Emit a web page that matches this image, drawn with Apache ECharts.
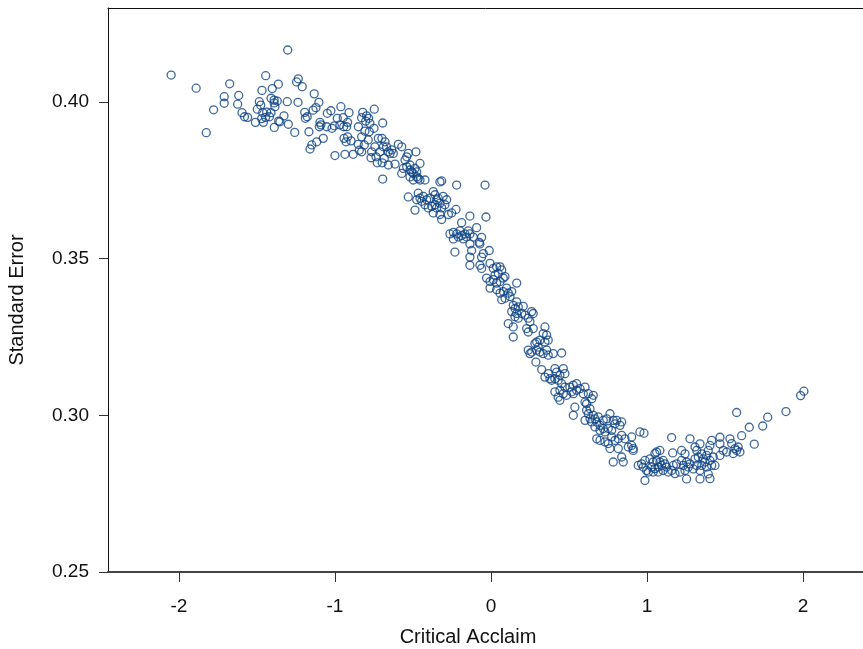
<!DOCTYPE html>
<html>
<head>
<meta charset="utf-8">
<script src="https://cdn.jsdelivr.net/npm/echarts@6/dist/echarts.min.js"></script>
<style>
  html, body { margin: 0; padding: 0; background: #ffffff; }
  #chart { width: 863px; height: 649px; }
</style>
</head>
<body>
<div id="chart"></div>
<script>
// Axis tick positions and labels
const xTicks = [-2, -1, 0, 1, 2];
const yTicks = [0.25, 0.30, 0.35, 0.40];

// Each item: [critical acclaim, standard error]
const points = [
  [-2.05,0.4086],[-1.89,0.4044],[-1.675,0.4058],[-1.71,0.4017],[-1.71,0.3996],[-1.617,0.4021],
  [-1.624,0.3993],[-1.778,0.3975],[-1.825,0.3902],[-1.596,0.3966],[-1.58,0.3953],[-1.56,0.3951],
  [-1.444,0.4084],[-1.468,0.4037],[-1.402,0.4043],[-1.363,0.4057],[-1.485,0.4001],[-1.476,0.399],
  [-1.41,0.4012],[-1.39,0.4006],[-1.39,0.3997],[-1.37,0.4003],[-1.498,0.3977],[-1.463,0.3966],
  [-1.438,0.3968],[-1.41,0.3966],[-1.385,0.3985],[-1.47,0.3947],[-1.445,0.3951],[-1.42,0.3953],
  [-1.51,0.3935],[-1.459,0.3935],[-1.389,0.3919],[-1.361,0.3939],
  [-1.303,0.4166],[-1.235,0.4074],[-1.246,0.4064],[-1.21,0.4049],
  [-1.133,0.4026],[-1.103,0.3999],[-1.14,0.3974],[-1.122,0.3982],[-1.306,0.4001],[-1.237,0.3999],
  [-1.327,0.3956],[-1.353,0.3937],[-1.299,0.3929],[-1.258,0.3903],[-1.194,0.3967],[-1.178,0.3953],
  [-1.19,0.3948],[-1.167,0.3905],[-1.096,0.3935],[-1.1,0.3921],[-1.09,0.3927],[-1.049,0.3964],
  [-1.026,0.3972],[-0.962,0.3985],[-0.91,0.3966],[-0.985,0.3948],[-0.947,0.395],[-0.919,0.3935],
  [-0.925,0.3921],[-0.944,0.3921],[-0.968,0.3927],[-1.053,0.3921],[-1.019,0.3916],[-1.004,0.3924],
  [-1.075,0.3884],[-1.117,0.3873],[-1.149,0.3863],[-1.16,0.385],[-1.0,0.3829],[-0.942,0.3884],
  [-0.929,0.3873],[-0.919,0.3889],[-0.897,0.3876],[-0.936,0.3833],[-0.883,0.3833],[-0.85,0.3921],
  [-0.822,0.3967],[-0.797,0.3956],[-0.784,0.3948],[-0.776,0.3932],[-0.803,0.3939],[-0.829,0.395],
  [-0.748,0.3977],[-0.808,0.3907],[-0.78,0.3905],[-0.75,0.3916],[-0.829,0.3889],[-0.851,0.3865],
  [-0.812,0.3863],[-0.829,0.3841],[-0.787,0.3879],[-0.765,0.3841],[-0.744,0.3857],[-0.722,0.3884],
  [-0.699,0.3884],[-0.679,0.3873],[-0.69,0.3857],[-0.669,0.3857],[-0.658,0.3841],[-0.712,0.3841],
  [-0.737,0.3825],[-0.769,0.3822],[-0.729,0.3806],[-0.697,0.3806],[-0.684,0.382],[-0.844,0.3846],
  [-0.694,0.3754],[-0.694,0.3933],[-0.594,0.3865],[-0.572,0.3857],
  [-0.647,0.3836],[-0.636,0.3847],[-0.626,0.3836],[-0.658,0.3799],[-0.615,0.3802],
  [-0.54,0.3825],[-0.53,0.3836],[-0.551,0.3815],[-0.481,0.3841],[-0.455,0.3804],
  [-0.562,0.3788],[-0.572,0.3772],[-0.54,0.3793],[-0.519,0.3799],[-0.519,0.3783],[-0.508,0.3777],
  [-0.498,0.3772],[-0.476,0.3777],[-0.487,0.3788],[-0.476,0.3761],[-0.519,0.3761],[-0.498,0.3751],
  [-0.455,0.3751],[-0.466,0.3756],[-0.423,0.3751],[-0.327,0.3745],[-0.316,0.3748],[-0.22,0.3735],
  [-0.466,0.3709],[-0.455,0.3693],[-0.476,0.3688],[-0.444,0.3683],[-0.423,0.3672],[-0.412,0.3688],
  [-0.434,0.3699],[-0.53,0.3697],[-0.487,0.3655],
  [-0.391,0.3693],[-0.37,0.3714],[-0.359,0.3704],[-0.348,0.3688],[-0.338,0.3693],[-0.327,0.3677],
  [-0.359,0.3672],[-0.38,0.3667],[-0.348,0.3662],[-0.316,0.3662],[-0.295,0.3672],[-0.284,0.3688],
  [-0.306,0.3699],[-0.402,0.3662],[-0.37,0.3646],[-0.327,0.3641],[-0.316,0.3625],[-0.273,0.3641],
  [-0.252,0.3646],[-0.224,0.3657],[-0.135,0.3636],[-0.188,0.3615],[-0.092,0.3599],
  [-0.263,0.3579],[-0.241,0.3584],[-0.22,0.3579],[-0.199,0.3589],[-0.188,0.3574],[-0.167,0.3579],
  [-0.156,0.3569],[-0.177,0.3563],[-0.135,0.3579],[-0.145,0.3589],[-0.209,0.3569],[-0.241,0.3563],
  [-0.113,0.3569],[-0.032,0.3633],[-0.038,0.3735],
  [-0.231,0.3521],[-0.135,0.3547],[-0.124,0.3526],[-0.071,0.3547],[-0.06,0.3568],[-0.075,0.3552],
  [-0.011,0.3526],[-0.049,0.3516],[-0.06,0.3505],[-0.135,0.3505],[-0.135,0.3479],[-0.071,0.3479],
  [-0.06,0.3469],[-0.006,0.3485],[0.015,0.3469],[0.036,0.3474],[0.058,0.3474],[0.069,0.3464],
  [0.047,0.3453],[-0.028,0.3438],[-0.006,0.3427],[0.015,0.3433],[0.026,0.3448],[0.036,0.3422],
  [0.058,0.3427],[0.079,0.3438],[0.09,0.3443],[-0.006,0.3406],
  [0.036,0.3401],[0.058,0.339],[0.079,0.3395],[0.1,0.3406],[0.111,0.339],[0.133,0.3395],
  [0.122,0.3379],[0.09,0.3374],[0.165,0.3422],[0.069,0.3369],
  [0.143,0.3351],[0.175,0.3346],[0.207,0.3348],[0.165,0.3362],
  [0.154,0.3341],[0.133,0.3331],[0.165,0.3325],[0.154,0.3315],[0.197,0.3325],[0.218,0.332],
  [0.175,0.331],[0.239,0.331],[0.271,0.3325],[0.261,0.3331],[0.25,0.3299],
  [0.111,0.3293],[0.143,0.3282],[0.143,0.325],[0.229,0.3277],[0.239,0.3266],[0.271,0.3277],
  [0.346,0.3282],[0.335,0.3261],[0.357,0.3256],[0.367,0.324],[0.346,0.3234],[0.314,0.324],
  [0.293,0.3234],[0.282,0.3229],
  [0.239,0.3208],[0.261,0.3202],[0.25,0.3197],[0.293,0.3208],[0.303,0.3218],[0.314,0.3202],
  [0.335,0.3197],[0.367,0.3192],[0.399,0.3197],[0.453,0.3199],[0.357,0.3208],[0.288,0.317],
  [0.325,0.3146],[0.367,0.3133],[0.346,0.3122],[0.378,0.3117],[0.41,0.3149],[0.421,0.3138],
  [0.442,0.3128],[0.464,0.3149],[0.474,0.3133],[0.431,0.3112],[0.41,0.3117],[0.389,0.3112],
  [0.453,0.3101],[0.474,0.309],[0.442,0.308],[0.464,0.3069],[0.485,0.3064],[0.506,0.309],
  [0.528,0.3096],[0.517,0.3075],[0.549,0.308],[0.571,0.3085],[0.603,0.309],[0.592,0.3069],
  [0.624,0.3069],[0.646,0.3053],[0.656,0.3064],[0.41,0.3075],[0.431,0.3058],[0.442,0.3048],
  [0.549,0.3101],[0.528,0.3069],[0.613,0.3037],
  [0.538,0.3026],[0.528,0.3],
  [0.603,0.3042],[0.613,0.3016],[0.635,0.3021],[0.624,0.3005],[0.603,0.2984],[0.635,0.2989],
  [0.645,0.2979],[0.667,0.2989],[0.656,0.3],[0.678,0.2979],[0.699,0.2968],[0.688,0.2995],
  [0.72,0.2984],[0.742,0.2989],[0.763,0.3005],[0.784,0.2984],[0.806,0.2984],[0.795,0.2973],
  [0.827,0.2968],[0.838,0.2979],[0.667,0.2963],[0.699,0.2952],[0.72,0.2958],[0.752,0.2958],
  [0.731,0.2947],[0.774,0.2952],[0.678,0.2925],[0.699,0.292],[0.731,0.2915],[0.752,0.291],
  [0.774,0.2931],[0.795,0.292],[0.816,0.2925],[0.838,0.2936],[0.859,0.2925],[0.902,0.2931],
  [0.88,0.2899],[0.902,0.2904],[0.912,0.2894],[0.955,0.2947],[0.981,0.2943],[0.763,0.2894],
  [0.816,0.2894],[0.838,0.2867],[0.784,0.2851],[0.848,0.2851],
  [0.912,0.2888],[1.158,0.2929],[1.165,0.288],[1.083,0.2888],[1.062,0.2883],[1.051,0.2878],
  [0.944,0.284],[0.966,0.2845],[0.987,0.2856],[0.976,0.2835],[0.998,0.2824],[1.019,0.2861],
  [1.04,0.2851],[1.062,0.2856],[1.083,0.2851],[1.104,0.2856],[1.115,0.2845],[1.094,0.284],
  [1.072,0.2835],[1.051,0.283],[1.03,0.2835],[1.009,0.2819],[1.04,0.2819],[1.072,0.2819],
  [1.104,0.2824],[1.126,0.2835],[1.136,0.2819],[1.158,0.2824],[1.169,0.284],[1.19,0.2845],
  [1.222,0.2856],[1.233,0.284],[1.254,0.2851],[1.265,0.2835],[1.276,0.2845],[1.244,0.2824],
  [1.212,0.2819],[1.18,0.2814],[0.987,0.2792],
  [1.222,0.2888],[1.244,0.2877],[1.276,0.2925],[1.308,0.2899],[1.319,0.2888],[1.34,0.2909],
  [1.329,0.2867],[1.308,0.2861],[1.351,0.2877],[1.362,0.2861],[1.383,0.2872],[1.393,0.2888],
  [1.404,0.2904],[1.415,0.292],[1.468,0.293],[1.468,0.2909],[1.489,0.2888],[1.511,0.2883],
  [1.425,0.2867],[1.404,0.2856],[1.372,0.2851],[1.351,0.284],[1.383,0.2835],[1.415,0.284],
  [1.34,0.2824],[1.297,0.2829],[1.319,0.284],[1.254,0.2797],[1.34,0.2797],[1.393,0.2813],
  [1.436,0.284],[1.468,0.2872],[1.404,0.2798],
  [2.006,0.3077],[1.985,0.3063],[1.891,0.3012],[1.575,0.3009],[1.774,0.2994],[1.742,0.2966],
  [1.656,0.2962],[1.607,0.2935],[1.688,0.2908],[1.532,0.2925],[1.543,0.291],
  [1.564,0.2894],[1.575,0.2888],[1.596,0.2883],[1.585,0.2899],[1.553,0.2878]
];

const FONT = '"Liberation Sans", Arial, Helvetica, sans-serif';
const chart = echarts.init(document.getElementById('chart'), null, { renderer: 'canvas' });

chart.setOption({
  animation: false,
  backgroundColor: '#ffffff',
  grid: { left: 108, top: 8, right: 0, bottom: 77, containLabel: false },
  xAxis: [
    {
      type: 'value',
      min: -2.455,
      max: 2.385,
      position: 'bottom',
      axisLine: { show: true, onZero: false, lineStyle: { color: '#444444', width: 2 } },
      axisTick: { show: true, customValues: xTicks, length: 10, lineStyle: { color: '#333333', width: 1 } },
      axisLabel: {
        customValues: xTicks, margin: 25, fontSize: 19, color: '#111111', fontFamily: FONT,
        formatter: v => String(v)
      },
      splitLine: { show: false }
    },
    {
      // top frame line
      type: 'value',
      min: -2.455,
      max: 2.385,
      position: 'top',
      axisLine: { show: true, onZero: false, lineStyle: { color: '#111111', width: 1 } },
      axisTick: { show: false },
      axisLabel: { show: false },
      splitLine: { show: false }
    }
  ],
  yAxis: {
    type: 'value',
    min: 0.25,
    max: 0.43,
    axisLine: { show: true, onZero: false, lineStyle: { color: '#111111', width: 1 } },
    axisTick: { show: true, customValues: yTicks, length: 9, lineStyle: { color: '#333333', width: 1 } },
    axisLabel: {
      customValues: yTicks, margin: 19, fontSize: 19, color: '#111111', fontFamily: FONT,
      formatter: v => v.toFixed(2)
    },
    splitLine: { show: false }
  },
  series: [{
    type: 'scatter',
    data: points,
    symbol: 'circle',
    symbolSize: 8,
    itemStyle: { color: 'rgba(255,255,255,0)', borderColor: '#0d4284', borderWidth: 1.3 },
    emphasis: { disabled: true }
  }],
  graphic: [
    {
      type: 'text', x: 468, y: 637,
      style: { text: 'Critical Acclaim', align: 'center', verticalAlign: 'middle',
               fontSize: 20, fontFamily: FONT, fill: '#111111' }
    },
    {
      type: 'text', x: 17, y: 300, rotation: Math.PI / 2,
      style: { text: 'Standard Error', align: 'center', verticalAlign: 'middle',
               fontSize: 20, fontFamily: FONT, fill: '#111111' }
    }
  ]
});
</script>
</body>
</html>
